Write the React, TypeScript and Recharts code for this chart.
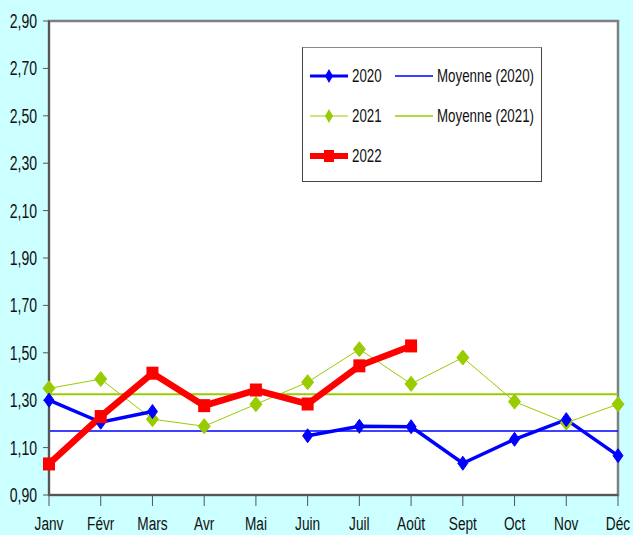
import React from "react";
import {
  LineChart,
  Line,
  XAxis,
  YAxis,
  ReferenceLine,
  ReferenceArea,
} from "recharts";

const months = ["Janv", "Févr", "Mars", "Avr", "Mai", "Juin", "Juil", "Août", "Sept", "Oct", "Nov", "Déc"];
const values2020 = [1.3, 1.207, 1.252, null, null, 1.15, 1.19, 1.188, 1.034, 1.135, 1.218, 1.066];
const values2021 = [1.35, 1.389, 1.22, 1.19, 1.283, 1.376, 1.515, 1.369, 1.48, 1.294, 1.205, 1.283];
const values2022 = [1.031, 1.231, 1.414, 1.277, 1.343, 1.284, 1.445, 1.529];
const avg2020 = 1.17;
const avg2021 = 1.325;
const yTicks = [0.9, 1.1, 1.3, 1.5, 1.7, 1.9, 2.1, 2.3, 2.5, 2.7, 2.9];

const BLUE = "#0000FF";
const GREEN = "#99CC00";
const RED = "#FF0000";
const FONT = '"Liberation Sans", Arial, sans-serif';
const SQUEEZE = 0.72;

const data = months.map((m, i) => ({
  month: m,
  y2020: values2020[i],
  y2021: values2021[i],
  y2022: i < values2022.length ? values2022[i] : null,
}));

const fmt = (v: number) => v.toFixed(2).replace(".", ",");

function diamond(w: number, h: number, color: string) {
  return (props: any) => {
    const { cx, cy, index, value } = props;
    if (cx == null || cy == null || value == null) return <g key={`d-${index}`} />;
    const pts = `${cx},${cy - h / 2} ${cx + w / 2},${cy} ${cx},${cy + h / 2} ${cx - w / 2},${cy}`;
    return <polygon key={`d-${index}`} points={pts} fill={color} stroke={color} strokeWidth={1} />;
  };
}

function square(w: number, h: number, color: string) {
  return (props: any) => {
    const { cx, cy, index, value } = props;
    if (cx == null || cy == null || value == null) return <g key={`s-${index}`} />;
    return <rect key={`s-${index}`} x={cx - w / 2} y={cy - h / 2} width={w} height={h} fill={color} />;
  };
}

function YTick(props: any) {
  const { x, y, payload } = props;
  return (
    <text
      transform={`translate(${x},${y}) scale(${SQUEEZE},1)`}
      textAnchor="end"
      dy={7}
      fontFamily={FONT}
      fontSize={19.5}
      fill="#111"
    >
      {fmt(payload.value)}
    </text>
  );
}

function XTick(props: any) {
  const { x, y, payload } = props;
  return (
    <text
      transform={`translate(${x},${y}) scale(${SQUEEZE},1)`}
      textAnchor="middle"
      dy={24}
      fontFamily={FONT}
      fontSize={19}
      fill="#111"
    >
      {payload.value}
    </text>
  );
}

const legendItems = [
  { label: "2020", color: BLUE, width: 3, marker: "diamond", col: 0, row: 0 },
  { label: "2021", color: GREEN, width: 1, marker: "diamond", col: 0, row: 1 },
  { label: "2022", color: RED, width: 6, marker: "square", col: 0, row: 2 },
  { label: "Moyenne (2020)", color: BLUE, width: 1.5, marker: "none", col: 1, row: 0 },
  { label: "Moyenne (2021)", color: GREEN, width: 1.5, marker: "none", col: 1, row: 1 },
];

function ChartLegend() {
  return (
    <div
      style={{
        position: "absolute",
        left: 302,
        top: 47,
        width: 240,
        height: 135,
        background: "#fff",
        border: "1.5px solid #444",
        borderTopColor: "#888",
        boxSizing: "border-box",
        fontFamily: FONT,
        fontSize: 18.5,
        color: "#111",
      }}
    >
      {legendItems.map((it) => (
        <div
          key={it.label}
          style={{
            position: "absolute",
            left: it.col === 0 ? 6 : 91,
            top: 28 + it.row * 40 - 12,
            height: 24,
            width: 150,
          }}
        >
          <svg width={40} height={24} style={{ position: "absolute", left: 0, top: 0 }}>
            <line x1={1} y1={12} x2={39} y2={12} stroke={it.color} strokeWidth={it.width} />
            {it.marker === "diamond" && <polygon points="20,5 24,12 20,19 16,12" fill={it.color} />}
            {it.marker === "square" && <rect x={15} y={6} width={10} height={12} fill={it.color} />}
          </svg>
          <span
            style={{
              position: "absolute",
              left: 43,
              top: 0,
              lineHeight: "24px",
              whiteSpace: "nowrap",
              transform: `scaleX(${SQUEEZE})`,
              transformOrigin: "left center",
            }}
          >
            {it.label}
          </span>
        </div>
      ))}
    </div>
  );
}

export default function App() {
  return (
    <div style={{ position: "absolute", left: 0, top: 0, width: 633, height: 535, background: "#CCFFFF" }}>
      <LineChart width={633} height={535} data={data} margin={{ top: 21, right: 15, bottom: 0, left: 0 }}>
        <ReferenceArea
          x1="Janv"
          x2="Déc"
          y1={0.9}
          y2={2.9}
          fill="#FFFFFF"
          fillOpacity={1}
          stroke="#808080"
          strokeWidth={2.5}
        />
        <XAxis
          dataKey="month"
          height={40}
          axisLine={{ stroke: "#555", strokeWidth: 2 }}
          tickLine={{ stroke: "#555" }}
          tickSize={11}
          tickMargin={0}
          interval={0}
          tick={<XTick />}
        />
        <YAxis
          width={49}
          domain={[0.9, 2.9]}
          ticks={yTicks}
          axisLine={{ stroke: "#555", strokeWidth: 2 }}
          tickLine={{ stroke: "#555" }}
          tickSize={6}
          tickMargin={6}
          tick={<YTick />}
        />
        <ReferenceLine y={avg2021} stroke={GREEN} strokeWidth={2} />
        <ReferenceLine y={avg2020} stroke={BLUE} strokeWidth={1.5} />
        <Line
          dataKey="y2021"
          stroke={GREEN}
          strokeWidth={1}
          dot={diamond(12, 15, GREEN)}
          activeDot={false}
          isAnimationActive={false}
        />
        <Line
          dataKey="y2020"
          stroke={BLUE}
          strokeWidth={3.5}
          connectNulls={false}
          dot={diamond(10, 14, BLUE)}
          activeDot={false}
          isAnimationActive={false}
        />
        <Line
          dataKey="y2022"
          stroke={RED}
          strokeWidth={6.5}
          dot={square(12, 13, RED)}
          activeDot={false}
          isAnimationActive={false}
        />
      </LineChart>
      <ChartLegend />
    </div>
  );
}
